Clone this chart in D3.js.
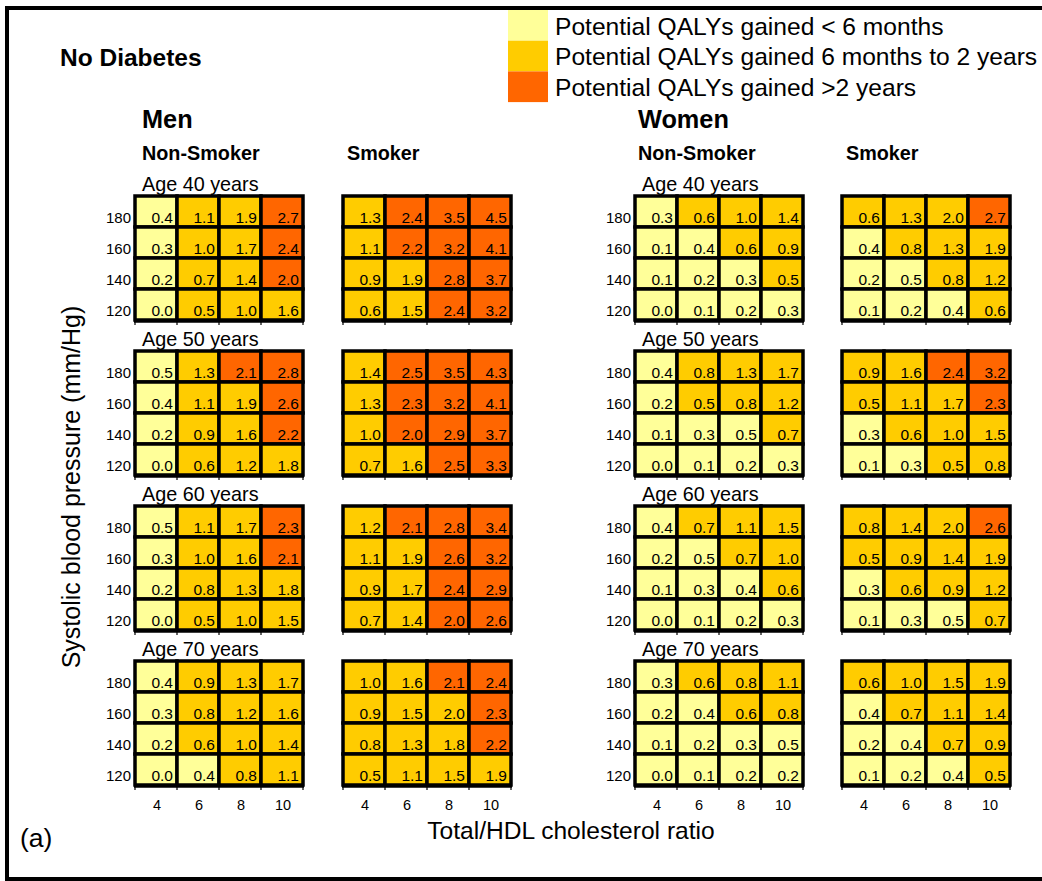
<!DOCTYPE html>
<html>
<head>
<meta charset="utf-8">
<script src="https://cdn.jsdelivr.net/npm/d3@7"></script>
<style>
  html, body { margin: 0; padding: 0; background: #fff; }
  svg { display: block; font-family: "Liberation Sans", Arial, sans-serif; }
</style>
</head>
<body>
<svg id="chart" width="1042" height="881"></svg>
<script>
// ---------------- DATA ----------------
const cholesterolTicks = [4, 6, 8, 10];
const sbpTicks = [180, 160, 140, 120];
const ageLabels = ["Age 40 years", "Age 50 years", "Age 60 years", "Age 70 years"];
const sexLabels = ["Men", "Women"];
const smokingLabels = ["Non-Smoker", "Smoker", "Non-Smoker", "Smoker"];
const legendLabels = [
  "Potential QALYs gained < 6 months",
  "Potential QALYs gained 6 months to 2 years",
  "Potential QALYs gained >2 years"
];
const bandColors = ["#FFFF99", "#FFCC00", "#FF6600"];

// values [age][sbp row 180..120][cholesterol 4..10]
const menNonSmokerValues = [
  [[0.4,1.1,1.9,2.7],[0.3,1.0,1.7,2.4],[0.2,0.7,1.4,2.0],[0.0,0.5,1.0,1.6]],
  [[0.5,1.3,2.1,2.8],[0.4,1.1,1.9,2.6],[0.2,0.9,1.6,2.2],[0.0,0.6,1.2,1.8]],
  [[0.5,1.1,1.7,2.3],[0.3,1.0,1.6,2.1],[0.2,0.8,1.3,1.8],[0.0,0.5,1.0,1.5]],
  [[0.4,0.9,1.3,1.7],[0.3,0.8,1.2,1.6],[0.2,0.6,1.0,1.4],[0.0,0.4,0.8,1.1]]
];
const menSmokerValues = [
  [[1.3,2.4,3.5,4.5],[1.1,2.2,3.2,4.1],[0.9,1.9,2.8,3.7],[0.6,1.5,2.4,3.2]],
  [[1.4,2.5,3.5,4.3],[1.3,2.3,3.2,4.1],[1.0,2.0,2.9,3.7],[0.7,1.6,2.5,3.3]],
  [[1.2,2.1,2.8,3.4],[1.1,1.9,2.6,3.2],[0.9,1.7,2.4,2.9],[0.7,1.4,2.0,2.6]],
  [[1.0,1.6,2.1,2.4],[0.9,1.5,2.0,2.3],[0.8,1.3,1.8,2.2],[0.5,1.1,1.5,1.9]]
];
const womenNonSmokerValues = [
  [[0.3,0.6,1.0,1.4],[0.1,0.4,0.6,0.9],[0.1,0.2,0.3,0.5],[0.0,0.1,0.2,0.3]],
  [[0.4,0.8,1.3,1.7],[0.2,0.5,0.8,1.2],[0.1,0.3,0.5,0.7],[0.0,0.1,0.2,0.3]],
  [[0.4,0.7,1.1,1.5],[0.2,0.5,0.7,1.0],[0.1,0.3,0.4,0.6],[0.0,0.1,0.2,0.3]],
  [[0.3,0.6,0.8,1.1],[0.2,0.4,0.6,0.8],[0.1,0.2,0.3,0.5],[0.0,0.1,0.2,0.2]]
];
const womenSmokerValues = [
  [[0.6,1.3,2.0,2.7],[0.4,0.8,1.3,1.9],[0.2,0.5,0.8,1.2],[0.1,0.2,0.4,0.6]],
  [[0.9,1.6,2.4,3.2],[0.5,1.1,1.7,2.3],[0.3,0.6,1.0,1.5],[0.1,0.3,0.5,0.8]],
  [[0.8,1.4,2.0,2.6],[0.5,0.9,1.4,1.9],[0.3,0.6,0.9,1.2],[0.1,0.3,0.5,0.7]],
  [[0.6,1.0,1.5,1.9],[0.4,0.7,1.1,1.4],[0.2,0.4,0.7,0.9],[0.1,0.2,0.4,0.5]]
];

// colour band: 0 = <6 months, 1 = 6 months-2 years, 2 = >2 years
const menNonSmokerBands = [
  [[0,1,1,2],[0,1,1,2],[0,1,1,2],[0,1,1,1]],
  [[0,1,2,2],[0,1,1,2],[0,1,1,2],[0,1,1,1]],
  [[0,1,1,2],[0,1,1,2],[0,1,1,1],[0,1,1,1]],
  [[0,1,1,1],[0,1,1,1],[0,1,1,1],[0,0,1,1]]
];
const menSmokerBands = [
  [[1,2,2,2],[1,2,2,2],[1,1,2,2],[1,1,2,2]],
  [[1,2,2,2],[1,2,2,2],[1,2,2,2],[1,1,2,2]],
  [[1,2,2,2],[1,1,2,2],[1,1,2,2],[1,1,2,2]],
  [[1,1,2,2],[1,1,1,2],[1,1,1,2],[1,1,1,1]]
];
const womenNonSmokerBands = [
  [[0,1,1,1],[0,0,1,1],[0,0,0,1],[0,0,0,0]],
  [[0,1,1,1],[0,1,1,1],[0,0,0,1],[0,0,0,0]],
  [[0,1,1,1],[0,0,1,1],[0,0,0,1],[0,0,0,0]],
  [[0,1,1,1],[0,0,1,1],[0,0,0,0],[0,0,0,0]]
];
const womenSmokerBands = [
  [[1,1,1,2],[0,1,1,1],[0,0,1,1],[0,0,0,1]],
  [[1,1,2,2],[1,1,1,2],[0,1,1,1],[0,0,1,1]],
  [[1,1,1,2],[1,1,1,1],[0,1,1,1],[0,0,0,1]],
  [[1,1,1,1],[0,1,1,1],[0,0,1,1],[0,0,0,1]]
];

// ---------------- DRAWING ----------------
const svg = d3.select("#chart");
const groups = [
  { values: menNonSmokerValues, bands: menNonSmokerBands },
  { values: menSmokerValues, bands: menSmokerBands },
  { values: womenNonSmokerValues, bands: womenNonSmokerBands },
  { values: womenSmokerValues, bands: womenSmokerBands }
];

// layout
const panelX = [135, 343, 635, 842];
const panelY = [196, 351, 506, 661];
const panelW = 168, panelH = 124;

const x = d3.scaleBand().domain(cholesterolTicks).range([0, panelW]);
const y = d3.scaleBand().domain(sbpTicks).range([0, panelH]);
const color = d3.scaleOrdinal().domain([0, 1, 2]).range(bandColors);

// frame
svg.append("rect")
  .attr("x", 7).attr("y", 8).attr("width", 1100).attr("height", 871)
  .attr("fill", "none").attr("stroke", "#000").attr("stroke-width", 4);

// titles
svg.append("text").attr("x", 60).attr("y", 66)
  .attr("font-size", 24.5).attr("font-weight", "bold").text("No Diabetes");

sexLabels.forEach((s, i) => {
  svg.append("text").attr("x", [142, 638][i]).attr("y", 128)
    .attr("font-size", 25.3).attr("font-weight", "bold").text(s);
});
smokingLabels.forEach((s, i) => {
  svg.append("text").attr("x", panelX[i] + [7, 4, 3, 4][i]).attr("y", 160)
    .attr("font-size", 19.8).attr("font-weight", "bold").text(s);
});

// legend
const legend = svg.append("g");
legendLabels.forEach((lab, i) => {
  legend.append("rect").attr("x", 508).attr("y", 10 + i * 30.7)
    .attr("width", 40).attr("height", 30.7).attr("fill", bandColors[i]);
  legend.append("text").attr("x", 555).attr("y", 34.5 + i * 30.7)
    .attr("font-size", 24.6).text(lab);
});

// panels
groups.forEach((grp, gi) => {
  ageLabels.forEach((ageLab, ai) => {
    const g = svg.append("g").attr("transform", `translate(${panelX[gi]},${panelY[ai]})`);
    if (gi === 0 || gi === 2) {
      g.append("text").attr("x", 7).attr("y", -5)
        .attr("font-size", 19.8).text(ageLab);
    }
    const cells = [];
    sbpTicks.forEach((sbp, ri) => {
      cholesterolTicks.forEach((ch, ci) => {
        cells.push({ sbp, ch, v: grp.values[ai][ri][ci], b: grp.bands[ai][ri][ci] });
      });
    });
    g.selectAll("rect.cell").data(cells).enter().append("rect")
      .attr("class", "cell")
      .attr("x", d => x(d.ch)).attr("y", d => y(d.sbp))
      .attr("width", x.bandwidth()).attr("height", y.bandwidth())
      .attr("fill", d => color(d.b))
      .attr("stroke", "#000").attr("stroke-width", 3.5);
    g.selectAll("text.val").data(cells).enter().append("text")
      .attr("class", "val")
      .attr("x", d => x(d.ch) + x.bandwidth() - 4)
      .attr("y", d => y(d.sbp) + y.bandwidth() - 4)
      .attr("text-anchor", "end").attr("font-size", 15.5)
      .text(d => d.v.toFixed(1));

    // bottom axis line & ticks between categories
    g.append("line").attr("x1", -1).attr("x2", panelW + 1)
      .attr("y1", panelH + 1).attr("y2", panelH + 1)
      .attr("stroke", "#000").attr("stroke-width", 3.5);
    const bounds = cholesterolTicks.map(d => x(d)).concat([panelW]);
    g.selectAll("line.tk").data(bounds).enter().append("line")
      .attr("class", "tk")
      .attr("x1", d => d).attr("x2", d => d)
      .attr("y1", panelH).attr("y2", panelH + 5)
      .attr("stroke", "#000").attr("stroke-width", 1.2);

    // y axis labels (only left panel of each sex)
    if (gi === 0 || gi === 2) {
      const ya = g.append("g").call(d3.axisLeft(y).tickSize(0).tickPadding(4));
      ya.select(".domain").remove();
      ya.selectAll("text").attr("font-size", 15).attr("font-family", null)
        .attr("y", 7).attr("fill", "#000");
    }
    // x axis labels (bottom row only)
    if (ai === 3) {
      const xa = g.append("g").attr("transform", `translate(1,${panelH})`)
        .call(d3.axisBottom(x).tickSize(0).tickPadding(15));
      xa.select(".domain").remove();
      xa.selectAll("text").attr("font-size", 14.5).attr("font-family", null).attr("fill", "#000");
    }
  });
});

// axis titles
svg.append("text").attr("x", 571).attr("y", 839)
  .attr("text-anchor", "middle").attr("font-size", 24.6)
  .text("Total/HDL cholesterol ratio");
svg.append("text")
  .attr("transform", "translate(80,487) rotate(-90)")
  .attr("text-anchor", "middle").attr("font-size", 25)
  .text("Systolic blood pressure (mm/Hg)");
svg.append("text").attr("x", 20).attr("y", 847)
  .attr("font-size", 26.5).text("(a)");
</script>
</body>
</html>
